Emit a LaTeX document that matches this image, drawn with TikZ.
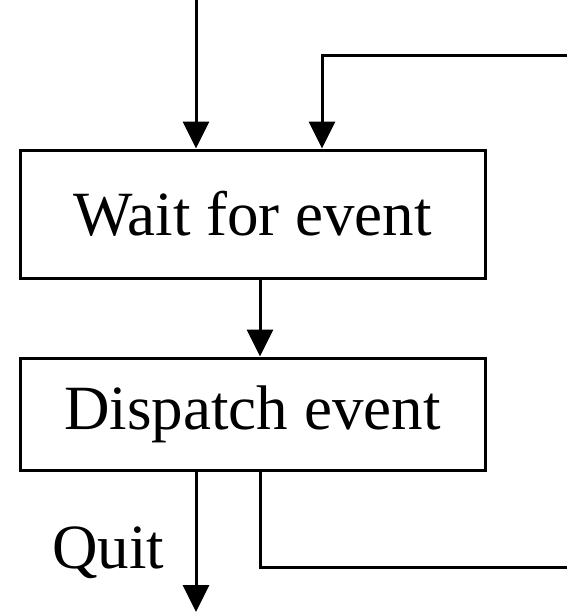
\documentclass[tikz,border=0pt]{standalone}
\usepackage{fontspec}
\setmainfont{Liberation Serif}
\usetikzlibrary{arrows.meta,positioning}

\begin{document}
\begin{tikzpicture}[x=1pt, y=-1pt, line width=3pt,
    box/.style={draw, minimum width=465pt, inner sep=0pt,
      font=\fontsize{63}{70}\selectfont},
    flow/.style={-{Triangle[length=27pt, width=26pt]}}]
   \useasboundingbox (0,0) rectangle (567,613);
   % boxes
   \node[box, minimum height=128pt] (wait) at (252.5,214) {Wait for event};
   \node[box, minimum height=112pt] (dispatch) at (252.5,414) {Dispatch event};

   % loose ends
   \coordinate (start) at (196,0);
   \coordinate (loopin) at (567,55);
   \coordinate (loopout) at (567,567);
   \coordinate (quit) at (196,612);

   % draw diagram
   \draw[flow] (start) -- (wait.north -| start);
   \draw[flow] (loopin) -| (wait.north -| 322,0);
   \draw[flow] (wait.south -| 260,0) -- (dispatch.north -| 260,0);
   \draw[flow] (dispatch.south -| quit) -- (quit);
   \draw (dispatch.south -| 260,0) |- (loopout);

   % labels
   \node[font=\fontsize{63}{70}\selectfont, anchor=base east]
     (quitlabel) at (169,568) {Quit};
\end{tikzpicture}
\end{document}
